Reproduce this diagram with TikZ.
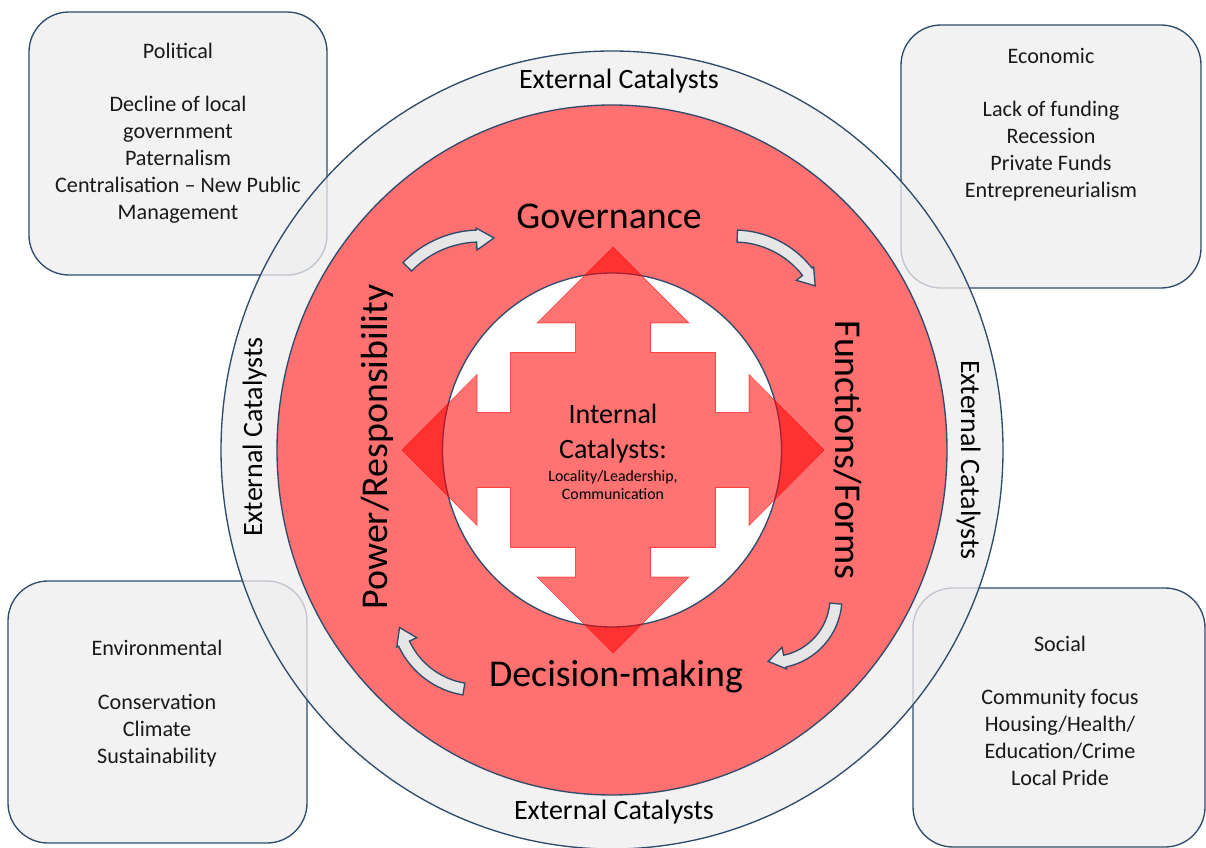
\documentclass[tikz,border=0pt]{standalone}
\usepackage{fontspec}
\setmainfont{Carlito}
\usetikzlibrary{fit}

\definecolor{rim}{HTML}{2F4B6C}
\definecolor{panel}{HTML}{F2F2F2}
\definecolor{ringgray}{HTML}{EEEEEE}
\definecolor{ringred}{HTML}{FF7171}
\definecolor{arcgray}{HTML}{E7E6E6}

\newcommand{\cyclearrow}[5]{%
  \draw[cyclearc, shift={#1}] ({#3}:{#2+6}) arc[start angle=#3, end angle=#4, radius=#2+6]
    -- ({#4}:{#2+8}) -- ({#5}:{#2-1}) -- ({#4}:{#2-14}) -- ({#4}:{#2-6})
    arc[start angle=#4, end angle=#3, radius=#2-6] -- cycle;}

\begin{document}
\begin{tikzpicture}[x=0.75pt, y=0.75pt,
  catbox/.style={draw=rim, fill=panel, line width=1pt, rounded corners=30pt, inner sep=0pt},
  boxtext/.style={align=center, font=\fontsize{16.6}{20.1}\selectfont, text=black!90},
  ringtext/.style={font=\fontsize{21}{25}\selectfont, anchor=base},
  stagetext/.style={font=\fontsize{28.4}{34}\selectfont, anchor=base},
  cyclearc/.style={draw=rim, fill=arcgray, line width=1pt}]
  \useasboundingbox (0,0) rectangle (1206,-848);
  \coordinate (hub) at (612,-450);

  \node[catbox, fit={(29,-12) (327,-275)}] (political) {};
  \node[catbox, fit={(901,-25) (1201,-288)}] (economic) {};
  \node[catbox, fit={(8,-581) (307,-843)}] (environmental) {};
  \node[catbox, fit={(913,-588) (1205,-847)}] (social) {};
  \node[boxtext] (political text) at (178,-133) {Political\\\mbox{}\\Decline of local\\government\\Paternalism\\Centralisation -- New Public\\Management};
  \node[boxtext] (economic text) at (1051,-124.5) {Economic\\\mbox{}\\Lack of funding\\Recession\\Private Funds\\Entrepreneurialism};
  \node[boxtext] (environmental text) at (157,-703.5) {Environmental\\\mbox{}\\Conservation\\Climate\\Sustainability};
  \node[boxtext] (social text) at (1060,-710.5) {Social\\\mbox{}\\Community focus\\Housing/Health/\\Education/Crime\\Local Pride};

  \draw[draw=rim, line width=1pt, fill=ringgray, fill opacity=0.75] (hub) ellipse [x radius=391, y radius=399];
  \draw[draw=rim, line width=1pt, fill=ringred] (hub) ellipse [x radius=335, y radius=345];
  \draw[draw=rim, line width=1pt, fill=white] (hub) ellipse [x radius=169.5, y radius=177];

  \draw[draw=red, draw opacity=0.6, fill=red, fill opacity=0.55, shift={(613,-450)}]
    (0,203) -- (76,127) -- (37.5,127) -- (37.5,97.5) -- (102.5,97.5) -- (102.5,37.5)
    -- (136,37.5) -- (136,75.5) -- (211,0) -- (136,-75.5) -- (136,-37.5) -- (102.5,-37.5)
    -- (102.5,-97.5) -- (37.5,-97.5) -- (37.5,-127) -- (76,-127) -- (0,-203) -- (-76,-127)
    -- (-37.5,-127) -- (-37.5,-97.5) -- (-102.5,-97.5) -- (-102.5,-37.5) -- (-136,-37.5)
    -- (-136,-75.5) -- (-211,0) -- (-136,75.5) -- (-136,37.5) -- (-102.5,37.5)
    -- (-102.5,97.5) -- (-37.5,97.5) -- (-37.5,127) -- (-76,127) -- cycle;

  \cyclearrow{(480,-337)}{101}{136}{92}{82}
  \cyclearrow{(734,-329)}{93}{88}{38}{28}
  \cyclearrow{(771.5,-598)}{64.5}{-5}{-78}{-93}
  \cyclearrow{(477,-609.6)}{80.5}{260.6}{205}{193}

  \node[ringtext] (ext top) at (619,-89) {External Catalysts};
  \node[ringtext] (ext bottom) at (614,-819.5) {External Catalysts};
  \node[ringtext, rotate=90] (ext left) at (262,-437) {External Catalysts};
  \node[ringtext, rotate=-90] (ext right) at (961,-460) {External Catalysts};

  \node[stagetext] (governance) at (609,-229) {Governance};
  \node[stagetext] (decision) at (616,-686) {Decision-making};
  \node[stagetext, rotate=90] (power) at (387,-447) {Power/Responsibility};
  \node[stagetext, rotate=-90] (functions) at (835,-450) {Functions/Forms};

  \node[align=center, inner sep=0pt, font=\fontsize{21}{26.2}\selectfont] (internal) at (613,-434) {Internal\\Catalysts:};
  \node[align=center, inner sep=0pt, font=\fontsize{11.9}{13.7}\selectfont] (internal items) at (613,-485.4) {Locality/Leadership,\\Communication};
\end{tikzpicture}
\end{document}
